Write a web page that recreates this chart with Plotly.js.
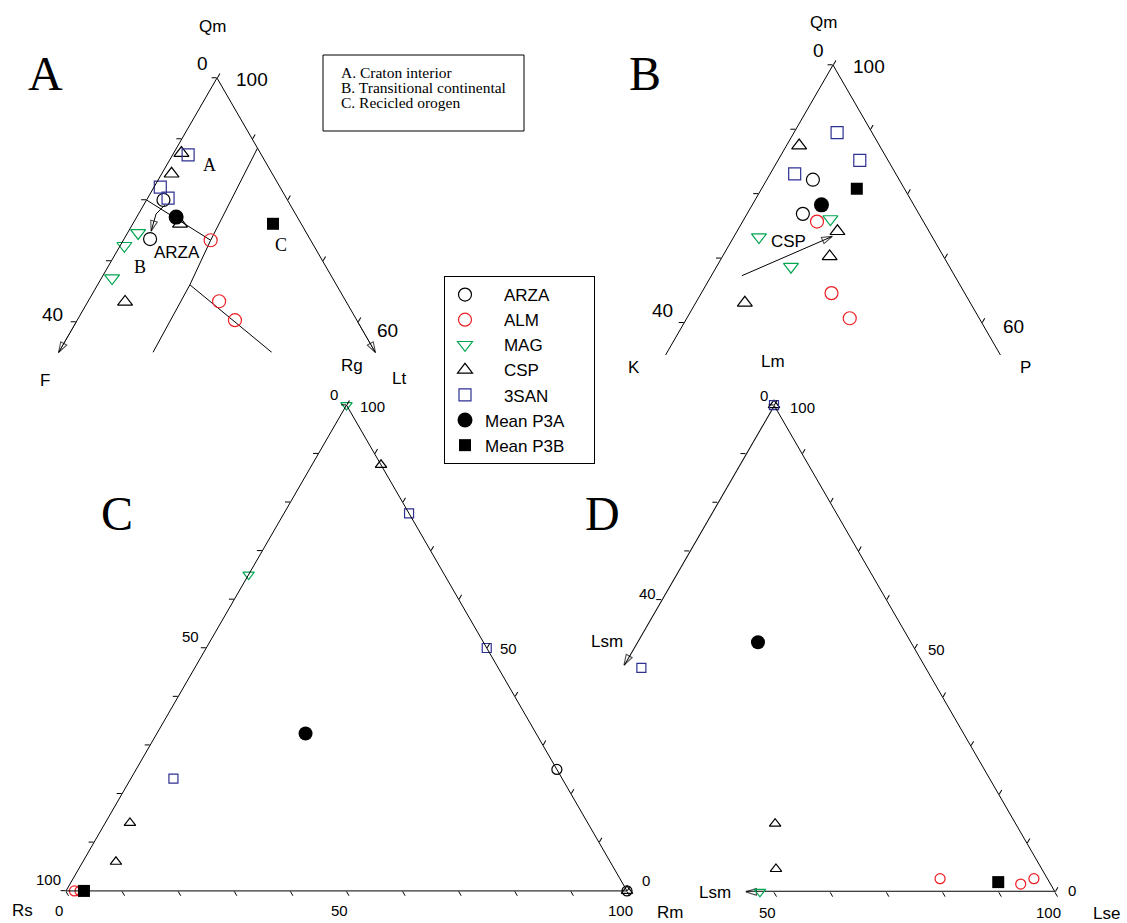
<!DOCTYPE html>
<html><head><meta charset="utf-8">
<script src="https://cdn.plot.ly/plotly-3.0.1.min.js"></script>
<style>html,body{margin:0;padding:0;background:#fff}#chart{width:1127px;height:923px}</style>
</head><body><div id="chart"></div>
<script>
// ---------------- DATA (ternary triplets: [top, bottom-left, bottom-right]) ----------------
// Panel A: Qm - F - Lt
const A_ARZA = [[80.0,17.6,2.4],[73.6,22.7,3.7]];
const A_ALM  = [[73.4,14.2,12.4],[63.4,18.0,18.6],[60.3,17.3,22.4]];
const A_MAG  = [[74.6,23.9,1.5],[72.5,26.9,0.6],[67.2,31.3,1.5]];
const A_CSP  = [[87.7,11.2,1.1],[84.3,14.3,1.4],[76.1,17.2,6.7],[63.3,31.4,5.3]];
const A_3SAN = [[87.4,10.4,2.2],[82.1,17.0,0.9],[80.3,16.8,2.9]];
const A_P3A  = [[77.2,17.2,5.6]];
const A_P3B  = [[76.1,4.0,19.9]];
// field boundaries (provenance fields) and arrows
const A_FIELD_1 = [[88.5,0,11.5],[73.4,14.2,12.4],[66.1,20.8,13.1],[55,31.6,13.4]];
const A_FIELD_2 = [[80,20,0],[73.4,14.2,12.4]];
const A_FIELD_3 = [[66.1,20.8,13.1],[55,14.7,30.3]];
const A_ARZA_ARROW = [[79.2,17.8,3.0],[77.7,19.8,2.5],[74.9,21.9,3.2]];
const A_EDGE_F  = [[60,40,0],[55,45,0]];
const A_EDGE_LT = [[60,0,40],[55,0,45]];

// Panel B: Qm - K - P
const B_ARZA = [[82.2,11.6,6.2],[76.9,15.6,7.5]];
const B_ALM  = [[75.7,14.3,10.0],[64.6,17.9,17.5],[60.7,17.4,21.9]];
const B_MAG  = [[76.1,12.3,11.6],[73.3,23.3,3.4],[68.7,21.3,10.0]];
const B_CSP  = [[87.5,10.8,1.7],[74.2,12.3,13.5],[70.3,15.3,14.4],[63.1,30.3,6.6]];
const B_3SAN = [[89.5,4.7,5.8],[85.2,3.8,11.0],[83.1,13.6,3.3]];
const B_P3A  = [[78.3,12.4,9.3]];
const B_P3B  = [[80.8,6.4,12.8]];
const B_CSP_ARROW = [[67.3,28.6,4.1],[73.4,13.4,13.2]];

// Panel C: Rg - Rs - Rm
const C_ARZA = [[25.0,0,75.0],[0,0,100]];
const C_ALM  = [[0,98.5,1.5],[0,97.5,2.5]];
const C_MAG  = [[100,0,0],[65.1,34.9,0]];
const C_CSP  = [[87.7,0,12.3],[14.0,81.6,4.4],[6.0,88.1,5.9],[0,0,100]];
const C_3SAN = [[77.7,0,22.3],[50,0,50],[23.1,69.3,7.6]];
const C_P3A  = [[32.4,41.1,26.5]];
const C_P3B  = [[0,96.8,3.2]];

// Panel D: Lm - Lsm - Lse
const D_ARZA = [];
const D_ALM  = [[2.7,19.1,78.2],[1.6,5.3,93.1],[2.7,2.4,94.9]];
const D_MAG  = [[0,52.5,47.5]];
const D_CSP  = [[100,0,0],[14.0,42.8,43.2],[4.7,47.3,48.0]];
const D_3SAN = [[100,0,0],[46.0,50.6,3.4]];
const D_P3A  = [[51.3,27.2,21.5]];
const D_P3B  = [[2.0,9.1,88.9]];
const D_EDGE_LSM_LEFT   = [[100,0,0],[46.6,53.4,0]];
const D_EDGE_LSM_BOTTOM = [[0,0,100],[0,55,45]];

const SERIES = ['ARZA','ALM','MAG','CSP','3SAN','Mean P3A','Mean P3B'];
const TICKS_10 = [0,10,20,30,40,50,60,70,80,90,100];
const TICKS_AB_LEFT  = [60,70,80,90,100];
const TICKS_AB_RIGHT = [0,10,20,30,40];
const TICKS_D_LEFT   = [60,70,80,90,100];
const TICKS_D_BOTTOM = [0,10,20,30,40,50];

// ---------------- STYLE ----------------
const W = 1127, H = 923;
const FONT = 'Arial, "Liberation Sans", sans-serif';
const SERIF = '"Times New Roman", "Liberation Serif", serif';
const STYLE = {
  'ARZA':     {symbol:'circle-open',        color:'#000000', open:true},
  'ALM':      {symbol:'circle-open',        color:'#ee1d23', open:true},
  'MAG':      {symbol:'triangle-down-open', color:'#00a650', open:true},
  'CSP':      {symbol:'triangle-up-open',   color:'#000000', open:true},
  '3SAN':     {symbol:'square-open',        color:'#2e3192', open:true},
  'Mean P3A': {symbol:'circle',             color:'#000000', open:false},
  'Mean P3B': {symbol:'square',             color:'#000000', open:false}
};
const NB = '\u00a0\u00a0\u00a0\u00a0';
const PAD = '<span style="color:rgba(0,0,0,0)">__.</span>';
const LEGEND_NAME = {
  'ARZA':NB+'ARZA','ALM':NB+'ALM','MAG':NB+'MAG','CSP':NB+'CSP','3SAN':NB+'3SAN',
  'Mean P3A':'Mean P3A'+PAD,'Mean P3B':'Mean P3B'
};
const SIZE_BIG   = {'ARZA':13,'ALM':13,'MAG':13,'CSP':13,'3SAN':12,'Mean P3A':15,'Mean P3B':12};
const SIZE_SMALL = {'ARZA':10,'ALM':10,'MAG':10,'CSP':10,'3SAN':9,'Mean P3A':14,'Mean P3B':12};

const col = (d,i) => d.map(p => p[i]);

function pts(subplot, name, data, sizes, showlegend){
  const s = STYLE[name];
  return {type:'scatterternary', subplot, mode:'markers', name:LEGEND_NAME[name], showlegend,
    a:col(data,0), b:col(data,1), c:col(data,2), cliponaxis:false, hoverinfo:'skip',
    marker:{symbol:s.symbol, color:s.color, size:sizes[name],
            line:{color:s.color, width: s.open ? 1.2 : 0}}};
}
function seg(subplot, data, arrow, width){
  const t = {type:'scatterternary', subplot, mode: arrow ? 'lines+markers' : 'lines', showlegend:false,
    a:col(data,0), b:col(data,1), c:col(data,2), cliponaxis:false, hoverinfo:'skip',
    line:{color:'#000', width: width || 1}};
  if (arrow) t.marker = {symbol:'arrow-open', angleref:'previous', color:'#000',
    size: data.map((_,i) => i === data.length-1 ? 11 : 0), line:{color:'#000', width:1.1}};
  return t;
}

const traces = [];
const panels = [
  ['ternary',  {ARZA:A_ARZA, ALM:A_ALM, MAG:A_MAG, CSP:A_CSP, '3SAN':A_3SAN, 'Mean P3A':A_P3A, 'Mean P3B':A_P3B}, SIZE_BIG, true],
  ['ternary2', {ARZA:B_ARZA, ALM:B_ALM, MAG:B_MAG, CSP:B_CSP, '3SAN':B_3SAN, 'Mean P3A':B_P3A, 'Mean P3B':B_P3B}, SIZE_BIG, false],
  ['ternary3', {ARZA:C_ARZA, ALM:C_ALM, MAG:C_MAG, CSP:C_CSP, '3SAN':C_3SAN, 'Mean P3A':C_P3A, 'Mean P3B':C_P3B}, SIZE_SMALL, false],
  ['ternary4', {ARZA:D_ARZA, ALM:D_ALM, MAG:D_MAG, CSP:D_CSP, '3SAN':D_3SAN, 'Mean P3A':D_P3A, 'Mean P3B':D_P3B}, SIZE_SMALL, false]
];
traces.push(seg('ternary', A_FIELD_1), seg('ternary', A_FIELD_2), seg('ternary', A_FIELD_3));
traces.push(seg('ternary', A_ARZA_ARROW, true), seg('ternary', A_EDGE_F, true), seg('ternary', A_EDGE_LT, true));
traces.push(seg('ternary2', B_CSP_ARROW, true));
traces.push(seg('ternary4', D_EDGE_LSM_LEFT, true, 2), seg('ternary4', D_EDGE_LSM_BOTTOM, true, 2));
panels.forEach(([sp, d, sz, leg]) => SERIES.forEach(n => { if (d[n].length) traces.push(pts(sp, n, d[n], sz, leg)); }));

// ---------------- LAYOUT ----------------
function dom(xl, xr, yt, yb){ return {x:[xl/W, xr/W], y:[1-yb/H, 1-yt/H]}; }
function ax(o){
  return Object.assign({min:0, showgrid:false, showline:true, linecolor:'#000', linewidth:1,
    ticks:'outside', ticklen:5, tickwidth:1, tickcolor:'#000', tickmode:'array',
    showticklabels:false, title:{text:''}}, o);
}
const hidden = {showline:false, ticks:'', tickvals:[]};

const tA = {domain:dom(58.5,375.5,78,352.5), sum:100, bgcolor:'rgba(0,0,0,0)',
  aaxis: ax({min:55, tickvals:TICKS_AB_LEFT}), baxis: ax(hidden), caxis: ax({tickvals:TICKS_AB_RIGHT})};
const tB = {domain:dom(665.6,1000.4,65,355), sum:100, bgcolor:'rgba(0,0,0,0)',
  aaxis: ax({min:55, tickvals:TICKS_AB_LEFT}), baxis: ax(hidden), caxis: ax({tickvals:TICKS_AB_RIGHT})};
const tC = {domain:dom(66,627,405,891), sum:100, bgcolor:'rgba(0,0,0,0)',
  aaxis: ax({tickvals:TICKS_10}), baxis: ax({tickvals:TICKS_10}), caxis: ax({tickvals:TICKS_10})};
const tD = {domain:dom(493,1055,405,892), sum:100, bgcolor:'rgba(0,0,0,0)',
  aaxis: ax({showline:false, tickvals:TICKS_D_LEFT}),
  baxis: ax({showline:false, tickvals:TICKS_D_BOTTOM}),
  caxis: ax({tickvals:TICKS_10})};

function ann(text, x, y, size, family, extra){
  return Object.assign({text, x:x/W, y:1-y/H, xref:'paper', yref:'paper', showarrow:false,
    xanchor:'center', yanchor:'middle', font:{family:family||FONT, size, color:'#000'}}, extra||{});
}
const annotations = [
  // panel letters
  ann('A', 45, 74, 48, SERIF), ann('B', 645, 74, 48, SERIF), ann('C', 117, 513, 48, SERIF), ann('D', 602, 513, 48, SERIF),
  // vertex titles
  ann('Qm', 212, 27, 17), ann('F', 45, 381, 17), ann('Lt', 399, 378, 17),
  ann('Qm', 823, 22, 17), ann('K', 634, 368, 17), ann('P', 1025, 368, 17),
  ann('Rg', 352, 366, 17), ann('Rs', 23, 910, 17), ann('Rm', 670, 912, 17),
  ann('Lm', 773, 361, 17), ann('Lse', 1106, 913, 17), ann('Lsm', 607, 641, 17), ann('Lsm', 715, 892, 17),
  // tick labels A
  ann('0', 202, 63, 19), ann('100', 252, 79, 19), ann('40', 52, 314, 19), ann('60', 387, 330, 19),
  // tick labels B
  ann('0', 818, 50, 19), ann('100', 869, 66, 19), ann('40', 662, 310, 19), ann('60', 1013, 326, 19),
  // tick labels C
  ann('0', 334, 394, 15), ann('50', 190, 636, 15), ann('100', 48, 879, 15),
  ann('100', 372, 406, 15), ann('50', 508, 648, 15), ann('0', 646, 880, 15),
  ann('0', 59, 910, 15), ann('50', 339, 910, 15), ann('100', 620, 910, 15),
  // tick labels D
  ann('0', 764, 395, 15), ann('40', 647, 593, 15),
  ann('100', 802, 407, 15), ann('50', 936, 649, 15), ann('0', 1072, 890, 15),
  ann('50', 767, 912, 15), ann('100', 1048, 912, 15),
  // labels inside panels A / B
  ann('A', 209, 165, 18, SERIF), ann('B', 140, 267, 18, SERIF), ann('C', 281, 245, 18, SERIF),
  ann('ARZA', 177, 252, 17), ann('CSP', 788, 242, 17),
  // field key box text
  ann('A. Craton interior', 340, 73, 15.5, SERIF, {xanchor:'left', borderpad:0}),
  ann('B. Transitional continental', 340, 88, 15.5, SERIF, {xanchor:'left', borderpad:0}),
  ann('C. Recicled orogen', 340, 103, 15.5, SERIF, {xanchor:'left', borderpad:0})
];
const shapes = [
  {type:'rect', xref:'paper', yref:'paper', x0:323/W, x1:524/W, y0:1-131/H, y1:1-55/H,
   line:{color:'#000', width:1}, fillcolor:'rgba(0,0,0,0)', layer:'below'}
];

const layout = {
  width:W, height:H, margin:{l:0,r:0,t:0,b:0}, paper_bgcolor:'#fff', plot_bgcolor:'#fff',
  showlegend:true, font:{family:FONT, color:'#000'},
  ternary:tA, ternary2:tB, ternary3:tC, ternary4:tD,
  legend:{x:444/W, y:1-276/H, xanchor:'left', yanchor:'top', bordercolor:'#000', borderwidth:1,
    bgcolor:'#fff', font:{family:FONT, size:17, color:'#000'}, tracegroupgap:0},
  annotations, shapes
};
Plotly.newPlot('chart', traces, layout, {staticPlot:true, displayModeBar:false});
</script></body></html>
